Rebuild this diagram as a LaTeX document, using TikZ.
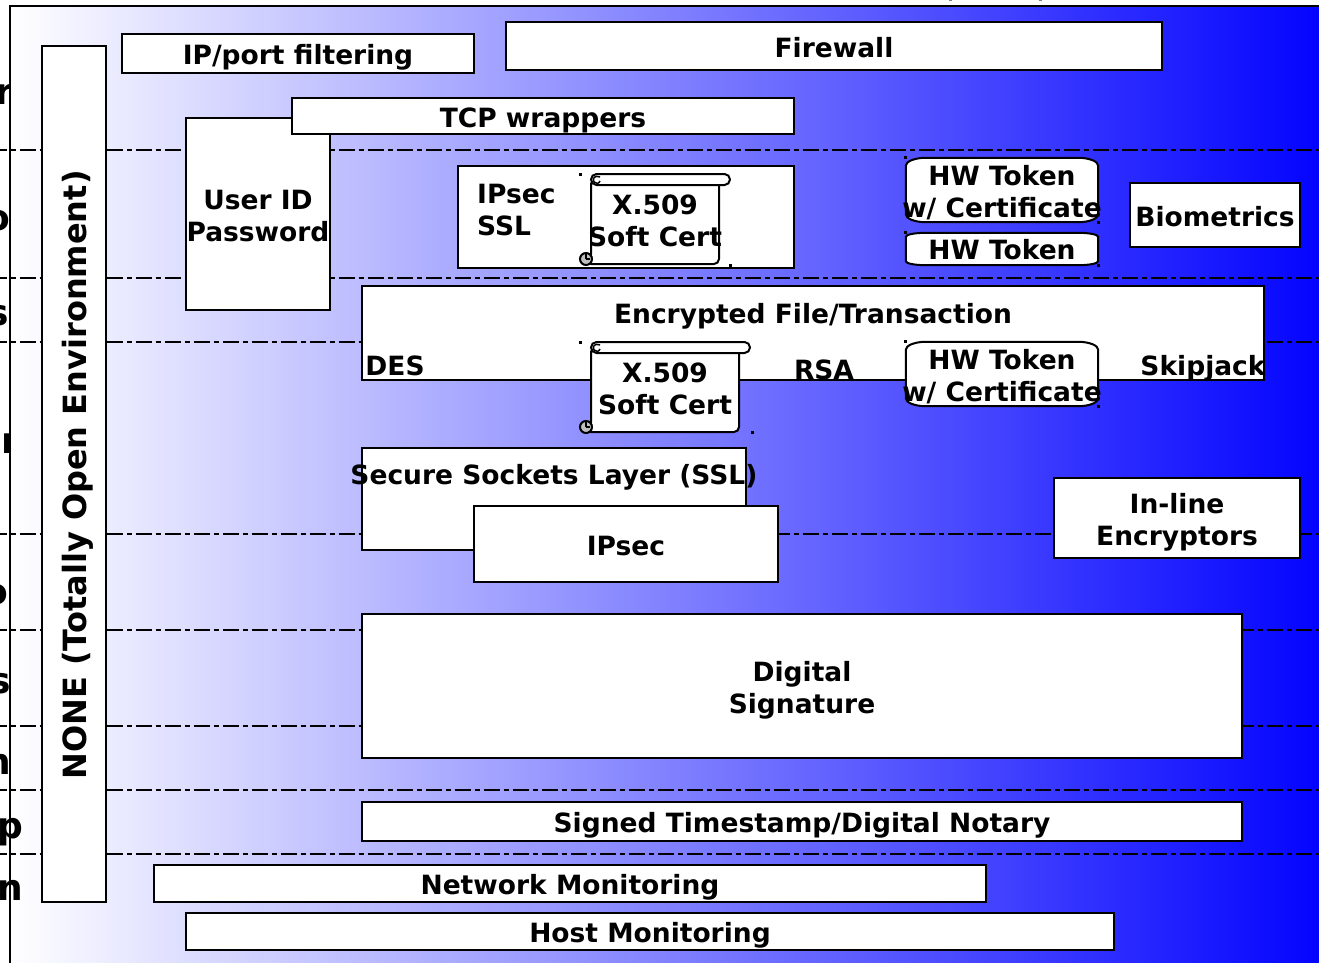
\documentclass[tikz,border=0pt]{standalone}
\usepackage{fontspec}
\setmainfont{DejaVu Sans}
\usepackage{tikz}
\usetikzlibrary{positioning}

\pgfdeclarehorizontalshading{panelfade}{100bp}{
  color(0bp)=(white); color(25bp)=(white); color(75bp)=(blue); color(100bp)=(blue)}

\tikzset{
  panel/.style={draw=black, line width=2pt, shading=panelfade},
  plainbox/.style={draw=black, fill=white, line width=2pt, inner sep=0pt},
  hidebox/.style={inner sep=0pt},
  boxtext/.style={inner sep=0pt, anchor=base, font=\fontsize{26.5}{32}\selectfont\bfseries},
  twolines/.style={inner sep=0pt, align=center, font=\fontsize{26.5}{32}\selectfont\bfseries},
  edgetext/.style={inner sep=0pt, anchor=base east, font=\fontsize{36}{40}\selectfont\bfseries},
  level/.style={line width=2pt, dash pattern=on 16pt off 4pt on 5pt off 4pt, dash phase=9.4pt},
  handle/.style={fill=black, minimum size=3pt, inner sep=0pt},
  toptick/.style={fill=black!50, minimum width=3pt, minimum height=2pt, inner sep=0pt},
  pics/softcert/.style={code={
    \draw [line width=2pt, fill=white, rounded corners=5pt] (0,5) -- (0,85) -- (-5,90) -- (#1,90) -- (#1,5) -- cycle;
    \draw [line width=2pt, fill=white, rounded corners=5.5pt] (0,0) rectangle (#1+11,11);
    \draw [line width=1.5pt] (9,3) .. controls (4,1) and (1,4) .. (3,8) .. controls (5,10) and (8,10) .. (9,7);
    \draw [line width=2pt, fill=black!25] (-5,85) circle [radius=6];
    \draw [line width=1.5pt] (-5,85) -- (-5,80) (-5,85) -- (-1,85);
  }}
}

\newcommand{\tokenoutline}[2]{
  \draw [line width=2pt, fill=white]
    ([yshift=-#2pt]#1.north west) .. controls ([yshift=-#2*0.45pt]#1.north west) and ([xshift=9pt]#1.north west) .. ([xshift=20pt]#1.north west)
    -- ([xshift=-20pt]#1.north east) .. controls ([xshift=-9pt]#1.north east) and ([yshift=-#2*0.45pt]#1.north east) .. ([yshift=-#2pt]#1.north east)
    -- ([yshift=#2pt]#1.south east) .. controls ([yshift=#2*0.45pt]#1.south east) and ([xshift=-9pt]#1.south east) .. ([xshift=-20pt]#1.south east)
    -- ([xshift=20pt]#1.south west) .. controls ([xshift=9pt]#1.south west) and ([yshift=#2*0.45pt]#1.south west) .. ([yshift=#2pt]#1.south west)
    -- cycle;
  \node [handle] (#1nw) at (#1.north west) {};
  \node [handle] (#1se) at (#1.south east) {};
}

\begin{document}
\begin{tikzpicture}[x=1pt, y=-1pt]
\useasboundingbox (0,0) rectangle (1319,963);

% cut-off row names, the panel hides their right ends
\node [edgetext] (rowa) at (13.5,105) {r};
\node [edgetext] (rowb) at (10,230) {o};
\node [edgetext] (rowc) at (9,325) {s};
\node [edgetext] (rowd) at (19,453) {r};
\node [edgetext] (rowe) at (8,604) {o};
\node [edgetext] (rowf) at (11,693) {s};
\node [edgetext] (rowg) at (11,774) {n};

% background
\path [panel] (10,6) rectangle (1340,990);
\node [edgetext] (rowh) at (23,838) {p};
\node [edgetext] (rowi) at (23,900) {n};
\node [toptick] (ticka) at (950,0) {};
\node [toptick] (tickb) at (1040,0) {};

% level lines
\foreach \y [count=\i] in {150,278,342,534,630,726,790,854} {
  \coordinate (levelw\i) at (0,\y);
  \coordinate (levele\i) at (1319,\y);
  \draw [level] (levelw\i) -- (levele\i);
}

% left column
\node [plainbox, minimum width=64pt, minimum height=856pt] (none) at (74,474) {};
\node [boxtext, anchor=center, rotate=90, font=\fontsize{32}{36}\selectfont\bfseries] (nonetext) at (78,475) {NONE (Totally Open Environment)};

% top rows
\node [plainbox, minimum width=352pt, minimum height=39pt] (ipfilter) at (298,53.5) {};
\node [boxtext] (ipfiltertext) at (298,65) {IP/port filtering};
\node [plainbox, minimum width=656pt, minimum height=48pt] (firewall) at (834,46) {};
\node [boxtext] (firewalltext) at (834,58) {Firewall};
\node [plainbox, minimum width=144pt, minimum height=192pt] (userid) at (258,214) {};
\node [twolines] (useridtext) at (258,216) {User ID\\Password};
\node [plainbox, minimum width=502pt, minimum height=36pt] (wrappers) at (543,116) {};
\node [boxtext] (wrapperstext) at (543,128) {TCP wrappers};

% ipsec box and tokens
\node [plainbox, minimum width=336pt, minimum height=102pt] (ipsecssl) at (626,217) {};
\node [twolines, align=left, anchor=west] (ipsecssltext) at (477,210) {IPsec\\SSL};
\pic (certa) at (591,174) {softcert=128};
\node [twolines] (certatext) at (655,221) {X.509\\Soft Cert};
\node [handle] (handlea) at (580,174) {};
\node [handle] (handleb) at (730,265) {};
\node [hidebox, minimum width=192pt, minimum height=64pt] (tokencert) at (1002,190) {};
\tokenoutline{tokencert}{8}
\node [twolines] (tokencerttext) at (1002,192.5) {HW Token\\w/ Certificate};
\node [hidebox, minimum width=192pt, minimum height=32pt] (token) at (1002,249) {};
\tokenoutline{token}{4}
\node [boxtext] (tokentext) at (1002,259) {HW Token};
\node [plainbox, minimum width=170pt, minimum height=64pt] (biometrics) at (1215,215) {};
\node [boxtext] (biometricstext) at (1215,226) {Biometrics};

% encrypted file box
\node [plainbox, minimum width=902pt, minimum height=94pt] (encrypted) at (813,333) {};
\node [boxtext] (encryptedtext) at (813,323) {Encrypted File/Transaction};
\node [boxtext] (destext) at (395,375) {DES};
\node [boxtext] (rsatext) at (824,379) {RSA};
\node [boxtext] (skipjacktext) at (1203,375) {Skipjack};
\pic (certb) at (591,342) {softcert=148};
\node [twolines] (certbtext) at (665,389) {X.509\\Soft Cert};
\node [handle] (handlec) at (580,342) {};
\node [handle] (handled) at (752,432) {};
\node [hidebox, minimum width=192pt, minimum height=64pt] (tokenb) at (1002,374) {};
\tokenoutline{tokenb}{8}
\node [twolines] (tokenbtext) at (1002,377) {HW Token\\w/ Certificate};

% ssl and ipsec
\node [plainbox, minimum width=384pt, minimum height=102pt] (ssl) at (554,499) {};
\node [boxtext] (ssltext) at (554,484) {Secure Sockets Layer (SSL)};
\node [plainbox, minimum width=304pt, minimum height=76pt] (ipsec) at (626,544) {};
\node [boxtext] (ipsectext) at (626,555) {IPsec};
\node [plainbox, minimum width=246pt, minimum height=80pt] (inline) at (1177,518) {};
\node [twolines] (inlinetext) at (1177,522) {In-line\\Encryptors};

% lower rows
\node [plainbox, minimum width=880pt, minimum height=144pt] (digsig) at (802,686) {};
\node [twolines] (digsigtext) at (802,690) {Digital\\Signature};
\node [plainbox, minimum width=880pt, minimum height=39pt] (notary) at (802,821.5) {};
\node [boxtext] (notarytext) at (802,832) {Signed Timestamp/Digital Notary};
\node [plainbox, minimum width=832pt, minimum height=37pt] (netmon) at (570,883.5) {};
\node [boxtext] (netmontext) at (570,894) {Network Monitoring};
\node [plainbox, minimum width=928pt, minimum height=37pt] (hostmon) at (650,931.5) {};
\node [boxtext] (hostmontext) at (650,942) {Host Monitoring};
\end{tikzpicture}
\end{document}
